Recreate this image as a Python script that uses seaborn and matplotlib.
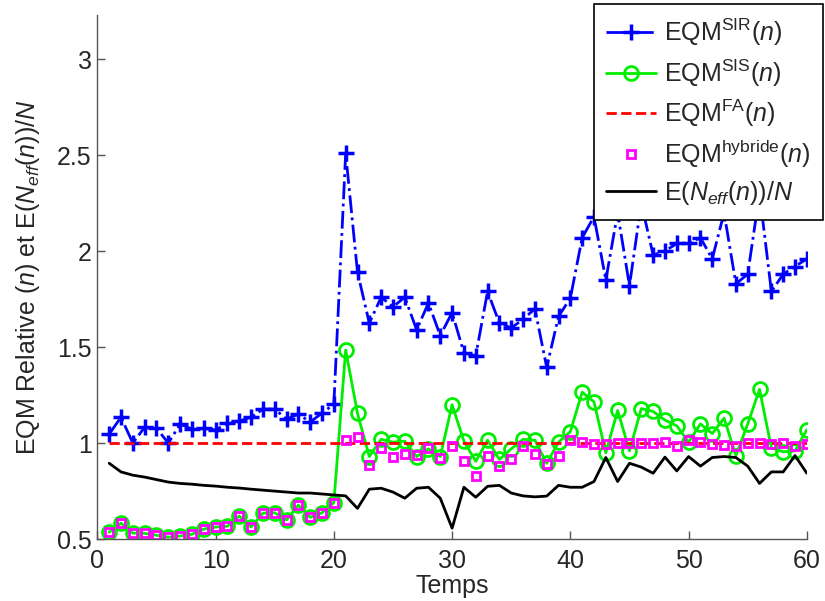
import matplotlib
matplotlib.use("Agg")
import matplotlib.pyplot as plt
import seaborn as sns
import numpy as np
import pandas as pd

temps = list(range(1, 61))

eqm_sir = [1.047, 1.135, 1.0, 1.083, 1.078, 1.0, 1.099, 1.073, 1.078, 1.068,
           1.104, 1.115, 1.135, 1.177, 1.177, 1.125, 1.151, 1.11, 1.156, 1.203,
           2.51, 1.89, 1.625, 1.76, 1.71, 1.76, 1.59, 1.73, 1.56, 1.68,
           1.47, 1.455, 1.79, 1.625, 1.60, 1.645, 1.70, 1.395, 1.66, 1.755,
           2.07, 2.18, 1.85, 2.2, 1.82, 2.25, 1.98, 2.0, 2.04, 2.04,
           2.07, 1.96, 2.2, 1.83, 1.88, 2.3, 1.79, 1.88, 1.92, 1.96]

eqm_sis = [0.536, 0.583, 0.531, 0.53, 0.52, 0.51, 0.516, 0.525, 0.552, 0.563,
           0.567, 0.62, 0.563, 0.635, 0.637, 0.6, 0.677, 0.613, 0.637, 0.69,
           1.485, 1.155, 0.93, 1.02, 1.005, 1.01, 0.93, 0.97, 0.93, 1.2,
           1.01, 0.905, 1.015, 0.915, 0.97, 1.02, 1.015, 0.895, 1.005, 1.06,
           1.265, 1.215, 0.95, 1.17, 0.96, 1.18, 1.165, 1.12, 1.09, 1.005,
           1.1, 1.05, 1.13, 0.935, 1.1, 1.28, 0.975, 0.955, 0.96, 1.07]

eqm_fa = [1.0] * 60

eqm_hybride = [0.536, 0.583, 0.531, 0.53, 0.52, 0.51, 0.516, 0.525, 0.552, 0.563,
               0.567, 0.62, 0.563, 0.635, 0.637, 0.6, 0.677, 0.613, 0.637, 0.69,
               1.015, 1.03, 0.885, 0.975, 0.93, 0.945, 0.94, 0.975, 0.92, 0.985,
               0.905, 0.83, 0.935, 0.88, 0.915, 0.985, 0.945, 0.89, 0.935, 1.015,
               1.005, 0.995, 0.995, 1.0, 1.0, 1.0, 1.0, 1.005, 0.985, 1.015,
               1.005, 0.995, 0.99, 0.985, 1.0, 1.0, 0.995, 1.0, 0.985, 0.995]

neff = [0.895, 0.85, 0.833, 0.823, 0.81, 0.797, 0.79, 0.786, 0.78, 0.776,
        0.77, 0.766, 0.76, 0.755, 0.75, 0.745, 0.74, 0.74, 0.735, 0.73,
        0.725, 0.66, 0.76, 0.765, 0.745, 0.713, 0.765, 0.77, 0.713, 0.557,
        0.77, 0.718, 0.775, 0.78, 0.74, 0.725, 0.72, 0.724, 0.78, 0.77,
        0.77, 0.80, 0.925, 0.80, 0.895, 0.875, 0.843, 0.927, 0.855, 0.93,
        0.88, 0.925, 0.93, 0.925, 0.88, 0.79, 0.85, 0.85, 0.935, 0.843]

x_ticks = [0, 10, 20, 30, 40, 50, 60]
y_ticks = [0.5, 1, 1.5, 2, 2.5, 3]
y_ticklabels = ["0.5", "1", "1.5", "2", "2.5", "3"]

labels = [r"EQM$^{\mathrm{SIR}}$($n$)",
          r"EQM$^{\mathrm{SIS}}$($n$)",
          r"EQM$^{\mathrm{FA}}$($n$)",
          r"EQM$^{\mathrm{hybride}}$($n$)",
          r"E($N_{eff}$($n$))/$N$"]

df = pd.DataFrame({"t": temps, "sir": eqm_sir, "sis": eqm_sis, "fa": eqm_fa,
                   "hyb": eqm_hybride, "neff": neff})

sns.set_theme(style="ticks")
plt.rcParams["font.family"] = ["Liberation Sans", "DejaVu Sans"]
plt.rcParams["mathtext.fontset"] = "custom"
plt.rcParams["mathtext.rm"] = "Liberation Sans"
plt.rcParams["mathtext.it"] = "Liberation Sans:italic"
plt.rcParams["mathtext.bf"] = "Liberation Sans:bold"

fig = plt.figure(figsize=(8.25, 6.01), dpi=100)
ax = fig.add_axes([0.118, 0.103, 0.860, 0.872])

sns.lineplot(data=df, x="t", y="sir", ax=ax, color="#0000ff", linestyle="-.",
             linewidth=2, marker="+", markersize=11, markeredgewidth=2.5,
             markeredgecolor="#0000ff", label=labels[0])
sns.lineplot(data=df, x="t", y="sis", ax=ax, color="#00ee00", linestyle="-",
             linewidth=2, marker="o", markersize=10, markeredgewidth=2,
             markerfacecolor="none", markeredgecolor="#00ee00", label=labels[1])
sns.lineplot(data=df, x="t", y="fa", ax=ax, color="#ff0000", linestyle="--",
             linewidth=2, label=labels[2])
sns.lineplot(data=df, x="t", y="hyb", ax=ax, color="#ff00ff", linestyle="none",
             marker="s", markersize=6, markeredgewidth=2,
             markerfacecolor="none", markeredgecolor="#ff00ff", label=labels[3])
sns.lineplot(data=df, x="t", y="neff", ax=ax, color="black", linestyle="-",
             linewidth=2, label=labels[4])

ax.set_xlim(0, 60)
ax.set_ylim(0.5, 3.23)
ax.set_xticks(x_ticks)
ax.set_yticks(y_ticks)
ax.set_yticklabels(y_ticklabels)
ax.tick_params(direction="in", labelsize=18, length=6, color="#555555",
               width=1)
ax.tick_params(axis="x", pad=7)
ax.tick_params(axis="y", pad=4)
for s in ["top", "right"]:
    ax.spines[s].set_visible(False)
for s in ["left", "bottom"]:
    ax.spines[s].set_color("#555555")
    ax.spines[s].set_linewidth(1)
ax.set_xlabel("Temps", fontsize=18, labelpad=1)
ax.set_ylabel(r"EQM Relative ($n$) et E($N_{eff}$($n$))/$N$", fontsize=18,
              labelpad=11)

handles, lbls = ax.get_legend_handles_labels()
leg = ax.legend(handles, lbls, loc="upper right",
                bbox_to_anchor=(0.997, 0.993), bbox_transform=fig.transFigure,
                fontsize=18, frameon=True, fancybox=False, framealpha=1,
                edgecolor="black", numpoints=1, handlelength=2.0,
                handletextpad=0.3, labelspacing=0.36, borderpad=0.5,
                borderaxespad=0)
leg.get_frame().set_linewidth(1.2)

fig.savefig("out.png", dpi=100)
